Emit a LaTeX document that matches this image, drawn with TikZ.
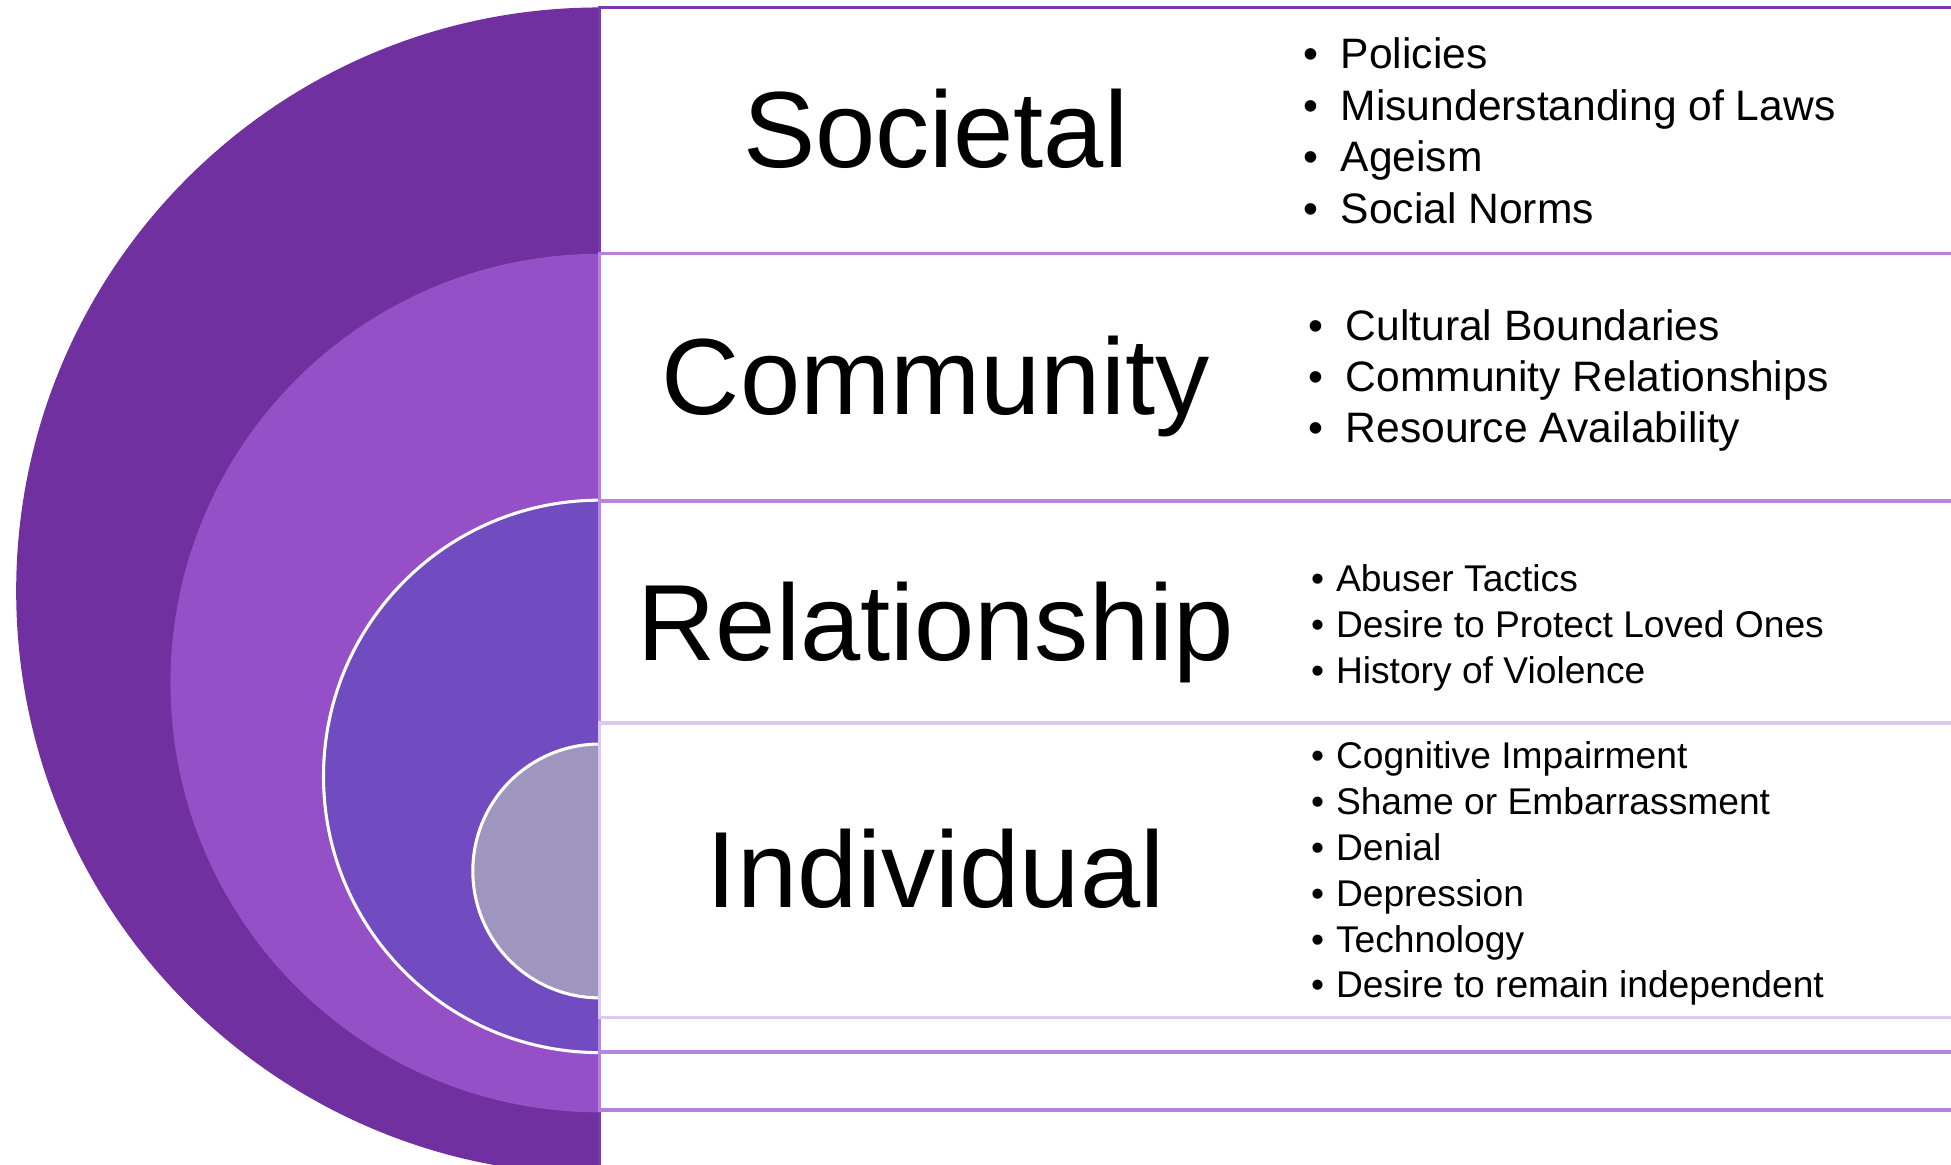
\documentclass[tikz,border=0pt]{standalone}
\usepackage{fontspec}
\setmainfont{Liberation Sans}
\definecolor{societal}{HTML}{7030A0}
\definecolor{community}{HTML}{954FC7}
\definecolor{relation}{HTML}{714CC1}
\definecolor{individual}{HTML}{9F96C0}
\definecolor{socline}{HTML}{7A3AAE}
\definecolor{comline}{HTML}{B67FE0}
\definecolor{relline}{HTML}{B886DC}
\definecolor{indline}{HTML}{DDC8F0}
\newcommand{\wideblt}{\makebox[8.5pt][l]{\textbullet}}
\newcommand{\narrowblt}{\makebox[5.7pt][l]{\textbullet}}
\tikzset{
  levelname/.style={font=\fontsize{24.75}{30}\selectfont, anchor=base, inner sep=0pt},
  wideitem/.style={font=\fontsize{9.73}{11.8}\selectfont, anchor=base west, inner sep=0pt},
  narrowitem/.style={font=\fontsize{8.5}{10.4}\selectfont, anchor=base west, inner sep=0pt},
  levelbox/.style={fill=white, line width=0.75pt},
}
\begin{document}
\begin{tikzpicture}[x=0.01cm, y=-0.01cm]
  \useasboundingbox (0,0) rectangle (1568,936.3);
  % nested discs, right halves hidden by the boxes
  \fill[societal] (482,475) circle[radius=469];
  \fill[community] (482,549) circle[radius=345];
  \filldraw[fill=relation, draw=white, line width=0.7pt] (482,624) circle[radius=222];
  \filldraw[fill=individual, draw=white, line width=0.7pt] (482,700) circle[radius=102];
  % level boxes
  \draw[levelbox, draw=socline] (482,6) rectangle (1600,944);
  \draw[levelbox, draw=comline] (482,204) rectangle (1600,892);
  \draw[levelbox, draw=relline] (482,402.6) rectangle (1600,845.5);
  \draw[levelbox, draw=indline] (482,581) rectangle (1600,817.5);
  % level names
  \node[levelname] (societal) at (752,135) {Societal};
  \node[levelname] (community) at (752,333) {Community};
  \node[levelname] (relationship) at (752,531) {Relationship};
  \node[levelname] (individual) at (752,729) {Individual};
  % factors
  \foreach \txt [count=\i] in {Policies, Misunderstanding of Laws, Ageism, Social Norms}
    \node[wideitem] (soc\i) at (1047,{55+41.5*(\i-1)}) {\wideblt\txt};
  \foreach \txt [count=\i] in {Cultural Boundaries, Community Relationships, Resource Availability}
    \node[wideitem] (com\i) at (1051,{274+41*(\i-1)}) {\wideblt\txt};
  \foreach \txt [count=\i] in {Abuser Tactics, Desire to Protect Loved Ones, History of Violence}
    \node[narrowitem] (rel\i) at (1053,{475+37*(\i-1)}) {\narrowblt\txt};
  \foreach \txt [count=\i] in {Cognitive Impairment, Shame or Embarrassment, Denial,
      Depression, Technology, Desire to remain independent}
    \node[narrowitem] (ind\i) at (1053,{618+36.8*(\i-1)}) {\narrowblt\txt};
\end{tikzpicture}
\end{document}
